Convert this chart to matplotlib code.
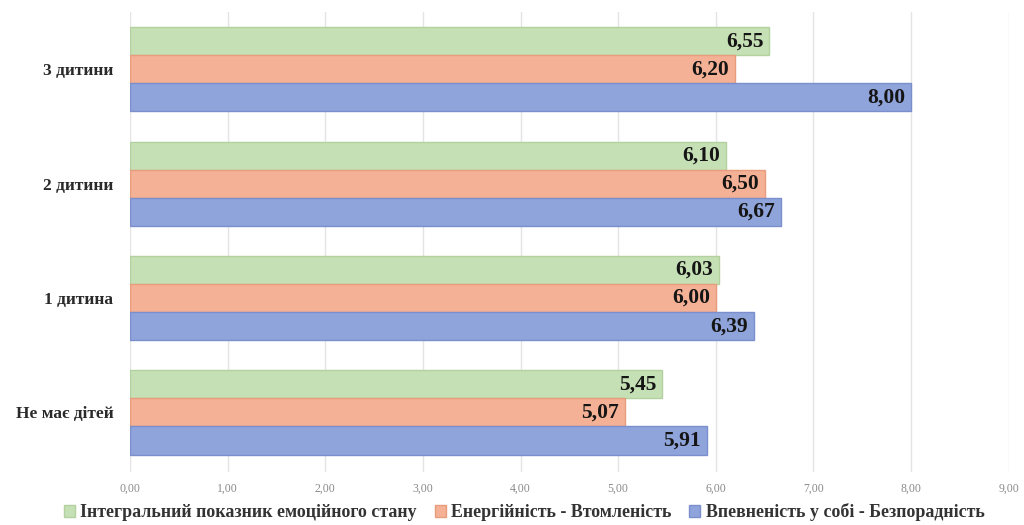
import numpy as np
import matplotlib
matplotlib.use("Agg")
import matplotlib.pyplot as plt

# Групи та значення показників
categories = ["Не має дітей", "1 дитина", "2 дитини", "3 дитини"]
integral = [5.45, 6.03, 6.10, 6.55]
energy = [5.07, 6.00, 6.50, 6.20]
confidence = [5.91, 6.39, 6.67, 8.00]

series_names = [
    "Інтегральний показник емоційного стану",
    "Енергійність - Втомленість",
    "Впевненість у собі - Безпорадність",
]
colors = ["#c6e0b5", "#f5b195", "#8fa4da"]
edges = ["#b3d19f", "#e89c7e", "#7a8fcc"]

plt.rcParams["font.family"] = ["Liberation Serif", "DejaVu Serif"]

fig = plt.figure(figsize=(10.24, 5.25), dpi=100)
ax = fig.add_axes([0.127, 0.101, 0.858, 0.876])

y = np.arange(len(categories))
h = 0.245
offsets = [h, 0, -h]

for vals, off, c, ec, name in zip([integral, energy, confidence], offsets, colors, edges, series_names):
    bars = ax.barh(y + off, vals, height=h, color=c, edgecolor=ec, linewidth=1.0, label=name, zorder=3)
    for b, v in zip(bars, vals):
        ax.text(b.get_width() - 0.06, b.get_y() + b.get_height() / 2,
                f"{v:.2f}".replace(".", ","), ha="right", va="center",
                fontsize=15.5, fontweight="bold", color="#151515", zorder=4)

ax.set_xlim(0, 9)
ax.set_ylim(-0.52, 3.5)
ax.set_xticks(range(10))
ax.set_xticklabels([f"{i},00" for i in range(10)], fontsize=8.5, color="#8a8a8a")
ax.set_yticks(y)
ax.set_yticklabels(categories, fontsize=12.5, fontweight="bold", color="#2a2a2a")
ax.tick_params(axis="both", length=0)
ax.tick_params(axis="x", pad=8)
ax.tick_params(axis="y", pad=12)

ax.grid(axis="x", color="#e4e4e4", linewidth=1.0, zorder=0)
for s in ax.spines.values():
    s.set_visible(False)

leg = fig.legend(loc="center", bbox_to_anchor=(0.512, 0.024), ncol=3, frameon=False,
                 prop={"size": 12.9, "weight": "bold"}, handlelength=0.6, handleheight=0.6,
                 handletextpad=0.3, columnspacing=1.0)
for t in leg.get_texts():
    t.set_color("#333333")

fig.savefig("out.png", dpi=100)
